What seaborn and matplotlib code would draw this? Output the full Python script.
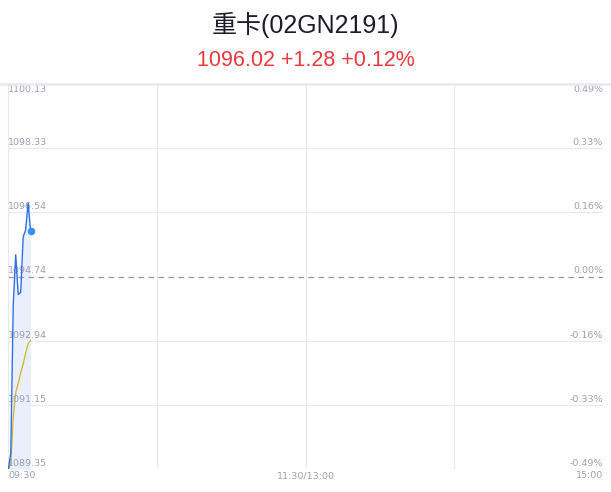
import numpy as np
import pandas as pd
import seaborn as sns
import matplotlib.pyplot as plt
from matplotlib.lines import Line2D

sns.set_theme(style="white")
plt.rcParams['font.family'] = ['DejaVu Sans', 'Noto Sans CJK SC']

# dados
minutes = [0, 1, 2, 3, 4, 5, 6, 7, 8, 9]
price = [1089.35, 1089.8, 1093.97, 1095.35, 1094.24, 1094.30, 1095.85, 1096.05, 1096.80, 1096.02]
avg_price = [1089.35, 1089.5, 1090.8, 1091.5, 1091.75, 1092.05, 1092.3, 1092.6, 1092.86, 1092.96]
ref_price = 1094.74
y_ticks = [1100.13, 1098.33, 1096.54, 1094.74, 1092.94, 1091.15, 1089.35]
pct_labels = ['0.49%', '0.33%', '0.16%', '0.00%', '-0.16%', '-0.33%', '-0.49%']
x_ticks = [0, 120, 240]
x_labels = ['09:30', '11:30/13:00', '15:00']
title = '重卡(02GN2191)'
subtitle = '1096.02 +1.28 +0.12%'

grey_txt = '#9aa0b4'
grid_col = '#e8e8ee'
head_font = ['Liberation Sans', 'Noto Sans CJK SC']

df = pd.DataFrame({'t': minutes, 'price': price, 'avg': avg_price})

fig = plt.figure(figsize=(6.11, 4.92), dpi=100)
ax = fig.add_axes([8.3 / 611, (492 - 469.3) / 492, (603 - 8.3) / 611, (469.3 - 84) / 492])

ax.fill_between(df['t'], df['price'], y_ticks[-1], color='#e9effc', lw=0, zorder=1)
sns.lineplot(data=df, x='t', y='avg', ax=ax, color='#d6b422', lw=0.9, zorder=3)
sns.lineplot(data=df, x='t', y='price', ax=ax, color='#2f6fe8', lw=1.0, zorder=4)
ax.scatter([minutes[-1]], [price[-1]], s=30, color='#3b8ef5', zorder=5, lw=0)

ax.axhline(ref_price, color='#9096b0', lw=0.9, ls=(0, (4.5, 3.5)), zorder=2)
for yv in y_ticks[1:]:
    if yv != ref_price:
        ax.axhline(yv, color=grid_col, lw=0.8, zorder=0)
for xv in [60, 120, 180]:
    ax.axvline(xv, color=grid_col, lw=0.8, zorder=0)

ax.set_xlim(0, 240)
ax.set_ylim(y_ticks[-1], y_ticks[0])
ax.set_xticks([])
ax.set_yticks([])
ax.set_xlabel('')
ax.set_ylabel('')
for side in ['top', 'right', 'bottom']:
    ax.spines[side].set_visible(False)
ax.spines['left'].set_color(grid_col)
ax.spines['left'].set_linewidth(0.8)

# rotulos do eixo y (dentro do grafico)
trans = ax.get_yaxis_transform()
for i, (yv, pl) in enumerate(zip(y_ticks, pct_labels)):
    va = 'top' if i == 0 else 'bottom'
    off = -0.5 if i == 0 else 1.0
    ax.annotate(f'{yv:.2f}', (0, yv), xycoords=trans, xytext=(0, off), textcoords='offset points',
                ha='left', va=va, fontsize=6.8, color=grey_txt)
    ax.annotate(pl, (1, yv), xycoords=trans, xytext=(0, off), textcoords='offset points',
                ha='right', va=va, fontsize=6.8, color=grey_txt)

xtrans = ax.get_xaxis_transform()
for xv, lab, ha in zip(x_ticks, x_labels, ['left', 'center', 'right']):
    ax.annotate(lab, (xv, 0), xycoords=xtrans, xytext=(0, -1.5), textcoords='offset points',
                ha=ha, va='top', fontsize=6.8, color=grey_txt)

fig.add_artist(Line2D([0, 1], [1 - 84 / 492] * 2, transform=fig.transFigure, color=grid_col, lw=1.8))
fig.text(0.5, 1 - 25 / 492, title, ha='center', va='center', fontsize=18, color='#1b1d2a',
         family=head_font)
fig.text(0.5, 1 - 61 / 492, subtitle, ha='center', va='center', fontsize=15.5, color='#e8393f',
         family=head_font)

fig.savefig('out.png', dpi=100)
